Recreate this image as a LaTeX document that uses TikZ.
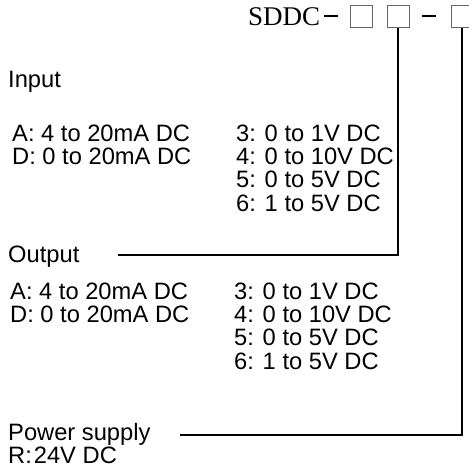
\documentclass[tikz,border=0pt]{standalone}
\usepackage{fontspec}
\setmainfont{Liberation Sans}
\newfontfamily\codefont{Liberation Serif}
\usetikzlibrary{positioning}
\tikzstyle{txt} = [inner sep=0pt, text height=17pt, text depth=6pt, font=\fontsize{23.7}{24}\selectfont]
\tikzstyle{cell} = [rectangle, draw=black!60, line width=0.7pt, minimum size=22pt, inner sep=0pt]
\tikzstyle{hyph} = [rectangle, fill=black, minimum width=14pt, minimum height=2.4pt, inner sep=0pt]
\tikzstyle{wire} = [line width=1.6pt, draw=black]

\begin{document}
\begin{tikzpicture}[x=1pt, y=-1pt, node distance=0pt]
    \useasboundingbox (0,0) rectangle (469,472);

    % model code
    \node (code) [anchor=base west, inner sep=0pt, font=\codefont\fontsize{27}{27}\selectfont] at (248,25) {SDDC};
    \node (hy1) [hyph, right=3pt of code] {};
    \node (box1) [cell, right=12pt of hy1] {};
    \node (box2) [cell, right=14pt of box1] {};
    \node (hy2) [hyph, right=13pt of box2] {};
    \node (box3) [cell, right=14pt of hy2] {};

    % input
    \node (inhead) [txt, anchor=base west] at (8,87) {Input};
    \node (inA) [txt, below=31pt of inhead.south west, anchor=north west, xshift=4pt] {A: 4 to 20mA DC};
    \node (inD) [txt, below=of inA.south west, anchor=north west] {D: 0 to 20mA DC};
    \node (in3) [txt, anchor=base west] at (236,141) {3: 0 to 1V DC};
    \node (in4) [txt, below=of in3.south west, anchor=north west] {4: 0 to 10V DC};
    \node (in5) [txt, below=of in4.south west, anchor=north west] {5: 0 to 5V DC};
    \node (in6) [txt, below=of in5.south west, anchor=north west] {6: 1 to 5V DC};

    % output
    \node (outhead) [txt, anchor=base west] at (8,262) {Output};
    \node (outA) [txt, below=14pt of outhead.south west, anchor=north west, xshift=2pt] {A: 4 to 20mA DC};
    \node (outD) [txt, below=of outA.south west, anchor=north west] {D: 0 to 20mA DC};
    \node (out3) [txt, anchor=base west] at (234,299) {3: 0 to 1V DC};
    \node (out4) [txt, below=of out3.south west, anchor=north west] {4: 0 to 10V DC};
    \node (out5) [txt, below=of out4.south west, anchor=north west] {5: 0 to 5V DC};
    \node (out6) [txt, below=of out5.south west, anchor=north west] {6: 1 to 5V DC};

    % power supply
    \node (pwrhead) [txt, anchor=base west] at (8,440) {Power supply};
    \node (pwrR) [txt, below=of pwrhead.south west, anchor=north west] {R:\kern2pt 24V DC};

    \coordinate (outtail) at (118,255);
    \coordinate (pwrtail) at (180,435);
    \draw [wire] (outtail) -| (box2.south);
    \draw [wire] (pwrtail) -| (box3.south);
\end{tikzpicture}
\end{document}
